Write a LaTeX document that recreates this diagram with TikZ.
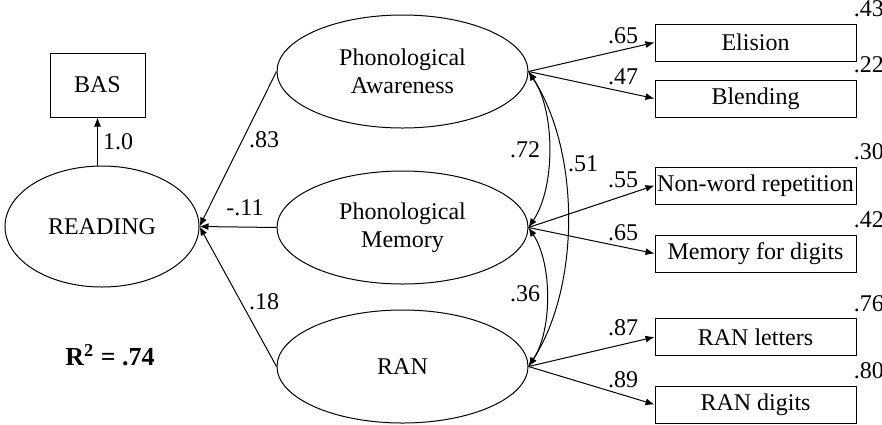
\documentclass[tikz,border=0pt]{standalone}
\usepackage{fontspec}
\setmainfont{Liberation Serif}
\usepackage{tikz}
\usetikzlibrary{arrows.meta, shapes.geometric, positioning}

\begin{document}
\begin{tikzpicture}[
    x=0.5pt, y=-0.5pt,
    font=\fontsize{12}{14}\selectfont,
    latent/.style={
        ellipse,
        draw=black,
        line width=0.5pt,
        inner sep=0pt,
        minimum width=125.5pt,
        minimum height=56.5pt,
        align=center
    },
    indicator/.style={
        rectangle,
        draw=black,
        line width=0.5pt,
        minimum width=100.5pt,
        minimum height=18.5pt,
        inner sep=0pt
    },
    errlabel/.style={
        anchor=south west,
        inner sep=0pt
    },
    arrow/.style={
        -{Latex[length=4.5pt,width=3.5pt]},
        line width=0.5pt
    },
    covar/.style={
        {Latex[length=4.5pt,width=3.5pt]}-{Latex[length=4.5pt,width=3.5pt]},
        line width=0.5pt
    }
]
\useasboundingbox (0,0) rectangle (882,424);

% Outcome
\node[latent, minimum width=97pt, minimum height=60.5pt] (read) at (102,226.5) {READING};
\node[indicator, minimum width=47.5pt, minimum height=32pt] (bas) at (97.5,85) {BAS};

% Predictors
\node[latent] (pa)  at (402.5,71.5)  {Phonological\\Awareness};
\node[latent] (pm)  at (402.5,227.5) {Phonological\\Memory};
\node[latent] (ran) at (402.5,366.5) {RAN};

% Observed measures
\node[indicator] (elis)  at (755.5,42.5)  {Elision};
\node[indicator] (blend) at (755.5,98.5)  {Blending};
\node[indicator] (nwr)   at (755.5,185.5) {Non-word repetition};
\node[indicator] (mfd)   at (755.5,253.5) {Memory for digits};
\node[indicator] (ranl)  at (755.5,337)   {RAN letters};
\node[indicator] (rand)  at (755.5,404.5) {RAN digits};

% Error variances
\node[errlabel] (v1) at ([xshift=-1.5pt,yshift=3pt]elis.north east)  {.43};
\node[errlabel] (v2) at ([xshift=-1.5pt,yshift=3pt]blend.north east) {.22};
\node[errlabel] (v3) at ([xshift=-1.5pt,yshift=3pt]nwr.north east)   {.30};
\node[errlabel] (v4) at ([xshift=-1.5pt,yshift=3pt]mfd.north east)   {.42};
\node[errlabel] (v5) at ([xshift=-1.5pt,yshift=3pt]ranl.north east)  {.76};
\node[errlabel] (v6) at ([xshift=-1.5pt,yshift=3pt]rand.north east)  {.80};

% Paths
\draw[arrow] (read.north -| bas) -- (bas.south);
\draw[arrow] (pa.west)  -- (read.east);
\draw[arrow] (pm.west)  -- (read.east);
\draw[arrow] (ran.west) -- (read.east);

\draw[arrow] (pa.east)  -- (elis.west);
\draw[arrow] (pa.east)  -- (blend.west);
\draw[arrow] (pm.east)  -- (nwr.west);
\draw[arrow] (pm.east)  -- (mfd.west);
\draw[arrow] (ran.east) -- (ranl.west);
\draw[arrow] (ran.east) -- (rand.west);

% Correlations
\draw[covar] (pa.east) .. controls +(27,40) and +(27,-40) .. (pm.east);
\draw[covar] (pm.east) .. controls +(24,36) and +(24,-36) .. (ran.east);
\draw[covar] (pa.east) .. controls +(52,80) and +(52,-80) .. (ran.east);

% Coefficients
\node (c1)  at (118,142) {1.0};
\node (c2)  at (264,140) {.83};
\node (c3)  at (245,208) {-.11};
\node (c4)  at (264,302) {.18};
\node (c5)  at (525,150) {.72};
\node (c6)  at (583,164) {.51};
\node (c7)  at (525,294) {.36};
\node (c8)  at (623,36)  {.65};
\node (c9)  at (623,77)  {.47};
\node (c10) at (623,180) {.55};
\node (c11) at (623,233) {.65};
\node (c12) at (623,328) {.87};
\node (c13) at (623,380) {.89};

\node[font=\fontsize{13}{15}\selectfont\bfseries] (rsq) at (110,355) {R\textsuperscript{2} = .74};

\end{tikzpicture}
\end{document}
